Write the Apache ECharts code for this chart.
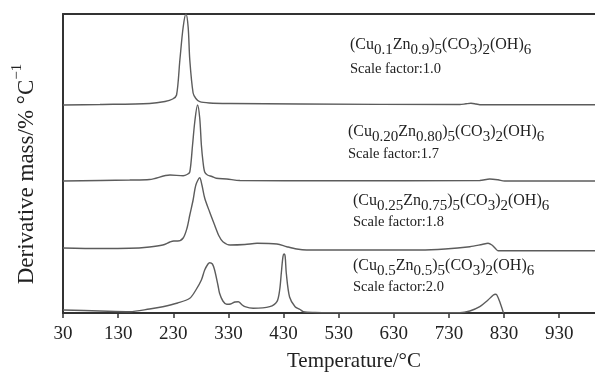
<!DOCTYPE html>
<html>
<head>
    <meta charset="UTF-8">
    <title>DTG curves</title>
    <script src="https://cdn.jsdelivr.net/npm/echarts/dist/echarts.min.js"></script>
    <style>
        html, body { margin: 0; padding: 0; background: #fff; }
        #main { width: 595px; height: 372px; }
    </style>
</head>
<body>
    <div id="main"></div>
    <script type="text/javascript">
        // temperature ticks
        const tickValues = [30, 130, 230, 330, 430, 530, 630, 730, 830, 930];

        // (Cu0.1Zn0.9), scale factor 1.0
        const t1 = [30, 97, 187, 215, 229, 236, 242, 248, 253, 257, 260, 266, 271, 278, 296, 333, 460, 750, 761, 770, 779, 786, 995];
        const v1 = [208, 208.5, 209.5, 211.5, 214, 218, 253, 286, 299, 286, 253, 220, 214.5, 211.3, 210, 209.5, 209, 208.5, 209.2, 209.7, 209, 208.3, 208.2];

        // (Cu0.20Zn0.80), scale factor 1.7
        const t2 = [30, 151, 187, 224, 248, 255, 260, 265, 269, 274, 278, 281, 284, 287, 292, 300, 308, 327, 351, 514, 786, 804, 819, 831, 995];
        const v2 = [132, 133, 133.5, 138, 137.3, 138.5, 141, 168, 191, 208, 195, 168, 151, 141, 138, 136.5, 134.7, 134, 132.5, 132.3, 132.5, 134, 133.2, 132, 132];

        // (Cu0.25Zn0.75), scale factor 1.8
        const t3 = [30, 97, 151, 187, 211, 224, 231, 238, 248, 255, 260, 266, 271, 278, 282, 287, 296, 305, 313, 320, 333, 360, 382, 418, 436, 454, 472, 514, 677, 723, 768, 790, 801, 808, 814, 819, 995];
        const v3 = [65, 64.5, 64.7, 66, 68, 71, 72, 72, 75, 85, 98, 113, 128, 135.3, 128, 115, 101, 88, 77, 71.3, 68, 68.5, 69.7, 69, 66.3, 64, 63, 63, 63, 64, 66.3, 68.5, 69.7, 68, 64.7, 62.3, 62.3];

        // (Cu0.5Zn0.5), scale factor 2.0
        const t4 = [30, 97, 151, 187, 211, 238, 260, 271, 281, 287, 293, 296, 301, 305, 311, 314, 320, 327, 334, 342, 348, 354, 360, 375, 405, 418, 423, 426, 429, 431, 433, 435, 441, 451, 460, 466, 487, 514, 750, 768, 786, 801, 814, 817, 823, 829];
        const v4 = [3, 2, 1.3, 4, 6.3, 10, 14.7, 23, 33, 43, 49, 50.3, 49, 43, 28, 19.7, 12, 8.7, 9, 11, 11.3, 8.5, 6.3, 4.7, 6.3, 11.3, 23, 40, 56.3, 59, 56.3, 40, 16, 6.3, 3.5, 1.3, 0.5, 0.2, 0.2, 2, 6.3, 13, 18.7, 18, 10, 0];

        // label texts
        const cuFrac = ['0.1', '0.20', '0.25', '0.5'];
        const znFrac = ['0.9', '0.80', '0.75', '0.5'];
        const scaleFactors = ['1.0', '1.7', '1.8', '2.0'];

        const serif = '"Liberation Serif", "DejaVu Serif", serif';
        const lineColor = '#5c5c5c';
        const axisColor = '#333';

        // label anchor: x, top of formula, middle of scale factor line
        const labelPos = [[350, 39, 69], [348, 125.5, 154], [353, 195, 222.5], [353, 260, 287]];

        function zip(t, v) {
            return t.map((x, i) => [x, v[i]]);
        }

        const curves = [zip(t1, v1), zip(t2, v2), zip(t3, v3), zip(t4, v4)];

        const richFormula = {
            n: { fontSize: 16, fontFamily: serif, lineHeight: 17, padding: [0, 0, 5, 0], color: '#222' },
            s: { fontSize: 15, fontFamily: serif, lineHeight: 16, padding: [6, 0, 0, 0], color: '#222' }
        };

        let graphics = [];
        cuFrac.forEach((cu, i) => {
            const p = labelPos[i];
            graphics.push({
                type: 'text',
                x: p[0],
                y: p[1],
                style: {
                    text: '{n|(Cu}{s|' + cu + '}{n|Zn}{s|' + znFrac[i] + '}{n|)}{s|5}{n|(CO}{s|3}{n|)}{s|2}{n|(OH)}{s|6}',
                    rich: richFormula,
                    fill: '#222',
                    align: 'left',
                    verticalAlign: 'top'
                }
            });
            graphics.push({
                type: 'text',
                x: p[0],
                y: p[2],
                style: {
                    text: 'Scale factor:' + scaleFactors[i],
                    fontSize: 14.5,
                    fontFamily: serif,
                    fill: '#222',
                    align: 'left',
                    verticalAlign: 'middle'
                }
            });
        });

        // y axis title
        graphics.push({
            type: 'text',
            x: 24,
            y: 174,
            rotation: Math.PI / 2,
            style: {
                text: '{m|Derivative mass/% °C}{u|−1}',
                rich: {
                    m: { fontSize: 23, fontFamily: serif, lineHeight: 23, padding: [6, 0, 0, 0], color: '#222' },
                    u: { fontSize: 15, fontFamily: serif, lineHeight: 16, padding: [0, 0, 13, 0], color: '#222' }
                },
                fill: '#222',
                align: 'center',
                verticalAlign: 'middle'
            }
        });

        // x axis title
        graphics.push({
            type: 'text',
            x: 354,
            y: 361,
            style: {
                text: 'Temperature/°C',
                fontSize: 21,
                fontFamily: serif,
                fill: '#222',
                align: 'center',
                verticalAlign: 'middle'
            }
        });

        let chart = echarts.init(document.getElementById('main'), null, { renderer: 'canvas' });

        let option = {
            animation: false,
            backgroundColor: '#fff',
            grid: {
                left: 63,
                top: 14,
                width: 532,
                height: 299
            },
            xAxis: [
                {
                    type: 'value',
                    min: 30,
                    max: 995,
                    position: 'bottom',
                    splitLine: { show: false },
                    axisLine: { show: true, lineStyle: { color: axisColor, width: 2 } },
                    axisTick: { show: true, customValues: tickValues, length: 5, lineStyle: { color: axisColor, width: 1.5 } },
                    axisLabel: {
                        customValues: tickValues,
                        margin: 12,
                        fontSize: 19,
                        fontFamily: serif,
                        color: '#222'
                    }
                },
                {
                    type: 'value',
                    min: 30,
                    max: 995,
                    position: 'top',
                    splitLine: { show: false },
                    axisLine: { show: true, lineStyle: { color: axisColor, width: 2 } },
                    axisTick: { show: false },
                    axisLabel: { show: false }
                }
            ],
            yAxis: {
                type: 'value',
                min: 0,
                max: 299,
                splitLine: { show: false },
                axisLine: { show: true, lineStyle: { color: axisColor, width: 2 } },
                axisTick: { show: false },
                axisLabel: { show: false }
            },
            graphic: graphics,
            series: curves.map(d => ({
                type: 'line',
                data: d,
                showSymbol: false,
                smooth: 0.3,
                clip: true,
                lineStyle: { color: lineColor, width: 1.4 }
            }))
        };

        chart.setOption(option);
    </script>
</body>
</html>
